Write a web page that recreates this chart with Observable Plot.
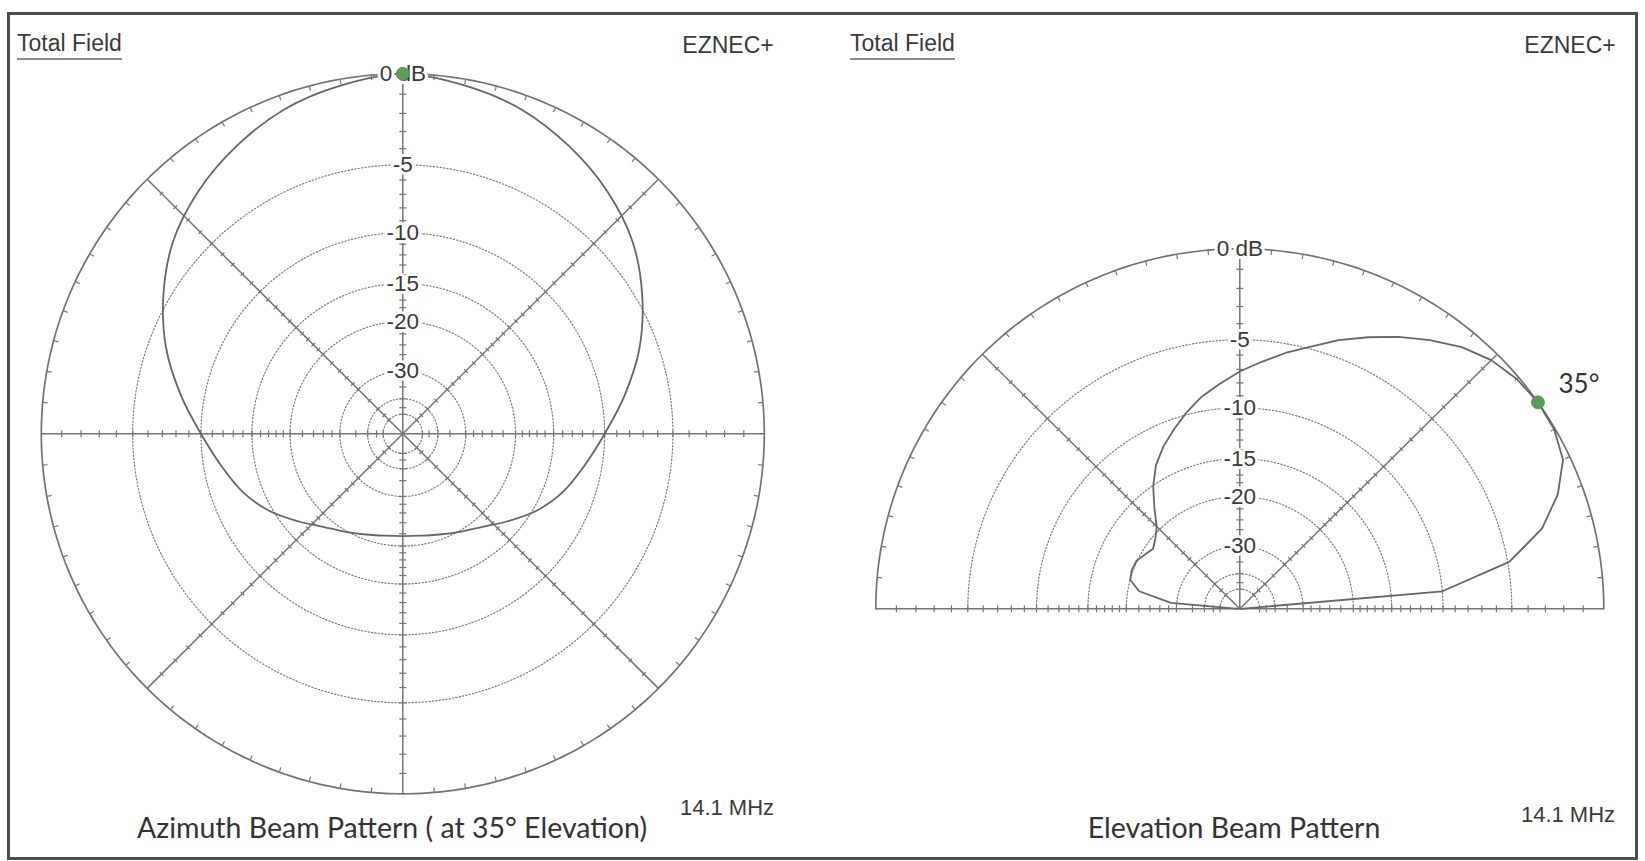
<!DOCTYPE html>
<html>
<head>
<meta charset="utf-8">
<script src="https://cdn.jsdelivr.net/npm/d3@7"></script>
<script src="https://cdn.jsdelivr.net/npm/@observablehq/plot@0.6"></script>
<style>
  body { margin: 0; background: #fff; }
  #page { position: relative; width: 1645px; height: 861px; overflow: hidden; background: #fff;
          font-family: "Liberation Sans", Arial, sans-serif; color: #3a3a3a; }
  .panel { position: absolute; top: 0; height: 861px; }
  .panel svg { max-width: none; }
  #frame { position: absolute; left: 7px; top: 12px; width: 1625px; height: 842px;
           border: 3px solid #4d4d4d; pointer-events: none; }
  .lbl { position: absolute; white-space: nowrap; line-height: 1; }
  .c { transform: translate(-50%, -50%); }
  .l { transform: translate(0, -50%); }
  .head { font-size: 23px; }
  .under { border-bottom: 2px solid #8c8c8c; padding-bottom: 3px; }
  .cap { font-family: Lato, "Open Sans", sans-serif; font-size: 28.5px; color: #333; }
  .freq { font-size: 22px; }
</style>
</head>
<body>
<div id="page">
  <div class="panel" id="az" style="left:0;width:820px"></div>
  <div class="panel" id="el" style="left:820px;width:825px"></div>

  <div class="lbl head under l" style="left:17px;top:46px">Total Field</div>
  <div class="lbl head c" style="left:728px;top:45px">EZNEC+</div>
  <div class="lbl head under l" style="left:850px;top:46px">Total Field</div>
  <div class="lbl head c" style="left:1570px;top:45px">EZNEC+</div>

  <div class="lbl cap c" style="left:392px;top:827px">Azimuth Beam Pattern ( at 35° Elevation)</div>
  <div class="lbl freq c" style="left:727px;top:808px">14.1 MHz</div>
  <div class="lbl cap c" style="left:1234px;top:827px">Elevation Beam Pattern</div>
  <div class="lbl freq c" style="left:1568px;top:815px">14.1 MHz</div>

  <div id="frame"></div>
</div>
<script>
// ---- pattern data (dB relative to the 0 dB maximum) ----
// Azimuth pattern at 35° elevation, bearing clockwise from the top of the plot
const azimuthDeg = [0, 10, 20, 30, 40, 50, 60, 70, 80, 90, 100, 110, 120, 130, 140, 150, 160, 170,
                    180, 190, 200, 210, 220, 230, 240, 250, 260, 270, 280, 290, 300, 310, 320, 330, 340, 350];
const azimuthDb = [0, -0.3, -0.72, -1.4, -2.2, -3.2, -4.6, -6.2, -8.1, -10.0, -11.55, -12.9, -14.6, -16.7, -18.6, -19.85, -20.8, -21.4,
                   -21.6, -21.4, -20.8, -19.85, -18.6, -16.7, -14.6, -12.9, -11.55, -10.0, -8.1, -6.2, -4.6, -3.2, -2.2, -1.4, -0.72, -0.3];

// Elevation pattern, elevation angle measured from the right-hand horizon
const elevationDeg = [0, 5, 10, 15, 20, 25, 30, 35, 40, 45, 50, 55, 60, 65, 70, 75, 80, 85, 90,
                      95, 100, 105, 110, 115, 120, 125, 130, 135, 140, 145, 150, 155, 160, 165, 170, 175, 180];
const elevationDb = [-100, -10.0, -4.9, -2.6, -1.25, -0.35, -0.05, 0, -0.12, -0.4, -0.9, -1.6, -2.35, -3.15, -3.95, -4.85, -5.6, -6.4, -7.15,
                     -8.0, -8.8, -9.8, -10.9, -12.0, -13.3, -15.1, -17.3, -19.4, -20.5, -21.2, -20.6, -19.9, -19.8, -20.0, -21.8, -28.5, -100];

// Maximum markers
const azimuthPeakDeg = 0, azimuthPeakDb = 0;
const elevationPeakDeg = 35, elevationPeakDb = 0;
const elevationPeakLabel = "35°";

// Grid: dotted rings and the labels along the vertical axis
const ringDb = [-5, -10, -15, -20, -30, -40, -50];
const ringLabelDb = [0, -5, -10, -15, -20, -30];
const ringLabels = ["0 dB", "-5", "-10", "-15", "-20", "-30"];
// small ticks along the spokes
const spokeTickDb = [-1, -2, -3, -4, -5, -6, -7, -8, -9, -10, -11, -12, -13, -14, -15, -16, -17, -18, -19, -20,
                     -22, -24, -26, -28, -30, -35, -40, -45, -50];

// ARRL-style log scale: radius shrinks by 0.89 for every 2 dB
const rho = db => Math.pow(0.89, -db / 2);
const rad = d => d * Math.PI / 180;
const polar = (bearing, r) => [r * Math.sin(rad(bearing)), r * Math.cos(rad(bearing))];

function polarChart({width, height, cx, cy, rx, ry, arc, spokes, pattern, curve, peak, peakLabel}) {
  const [b0, b1] = arc;
  const bearings = d3.range(b0, b1 + 0.01, 1);
  const outline = bearings.map(b => { const [x, y] = polar(b, 1); return {x, y}; });
  const rings = ringDb.flatMap(db => bearings.map(b => { const [x, y] = polar(b, rho(db)); return {db, x, y}; }));
  const spokeLinks = spokes.map(b => { const [x, y] = polar(b, 1); return {x1: 0, y1: 0, x2: x, y2: y}; });
  const spokeTicks = spokes.flatMap(b => {
    const h = b % 90 === 0 ? 3.5 : 2.5;
    const px = Math.cos(rad(b)) * h / rx, py = -Math.sin(rad(b)) * h / ry;
    return spokeTickDb.map(db => { const [x, y] = polar(b, rho(db)); return {x1: x - px, y1: y - py, x2: x + px, y2: y + py}; });
  });
  const onSpoke = b => spokes.some(s => ((((s - b) % 360) + 360) % 360) === 0);
  const rimTicks = d3.range(b0, b1 + 0.01, 5).filter(b => !onSpoke(b)).map(b => {
    const s = Math.sin(rad(b)), c = Math.cos(rad(b));
    return {x1: s, y1: c, x2: s * (1 - 5 / rx), y2: c * (1 - 5 / ry)};
  });
  const labels = ringLabelDb.map((db, i) => { const [x, y] = polar(0, rho(db)); return {x, y, text: ringLabels[i]}; });
  const trace = pattern.deg.map((d, i) => { const [x, y] = polar(pattern.bearing(d), rho(pattern.db[i])); return {x, y}; });
  const [px, py] = polar(pattern.bearing(peak.deg), rho(peak.db));
  const peakPt = [{x: px, y: py, text: peakLabel || ""}];

  const marks = [
    Plot.line(rings, {x: "x", y: "y", z: "db", stroke: "#7c7c7c", strokeWidth: 1.2, strokeDasharray: "1.3,2.1"}),
    Plot.link(spokeLinks, {x1: "x1", y1: "y1", x2: "x2", y2: "y2", stroke: "#747474", strokeWidth: 1.5}),
    Plot.link(spokeTicks, {x1: "x1", y1: "y1", x2: "x2", y2: "y2", stroke: "#747474", strokeWidth: 1.2}),
    Plot.line(outline, {x: "x", y: "y", stroke: "#727272", strokeWidth: 1.7}),
    Plot.link(rimTicks, {x1: "x1", y1: "y1", x2: "x2", y2: "y2", stroke: "#777", strokeWidth: 1.2}),
    Plot.line(trace, {x: "x", y: "y", curve, stroke: "#666", strokeWidth: 1.8}),
    Plot.text(labels, {x: "x", y: "y", text: "text", fill: "#3a3a3a", stroke: "white", strokeWidth: 6,
                       fontSize: 22.5, fontFamily: "Liberation Sans, Arial, sans-serif"}),
    Plot.dot(peakPt, {x: "x", y: "y", r: 6.5, fill: "#5c9e57", stroke: "#4f9149", strokeWidth: 0.8})
  ];
  if (peakLabel) marks.push(Plot.text(peakPt, {x: "x", y: "y", text: "text", dx: 41, dy: -18, fill: "#333",
                                              fontSize: 26, fontFamily: "Lato, sans-serif"}));

  return Plot.plot({
    width, height, margin: 0,
    x: {domain: [-1, 1], range: [cx - rx, cx + rx], axis: null},
    y: {domain: [-1, 1], range: [cy + ry, cy - ry], axis: null},
    style: {background: "transparent", overflow: "visible", fontFamily: "Liberation Sans, Arial, sans-serif"},
    marks
  });
}

document.getElementById("az").append(polarChart({
  width: 820, height: 861, cx: 402.3, cy: 433.3, rx: 361.5, ry: 360,
  arc: [0, 360], spokes: [0, 45, 90, 135, 180, 225, 270, 315],
  pattern: {deg: azimuthDeg, db: azimuthDb, bearing: d => d},
  curve: "catmull-rom-closed",
  peak: {deg: azimuthPeakDeg, db: azimuthPeakDb}
}));

document.getElementById("el").append(polarChart({
  width: 825, height: 861, cx: 419.3, cy: 608.3, rx: 364, ry: 360,
  arc: [-90, 90], spokes: [90, 45, 0, -45, -90],
  pattern: {deg: elevationDeg, db: elevationDb, bearing: d => 90 - d},
  curve: "linear",
  peak: {deg: elevationPeakDeg, db: elevationPeakDb},
  peakLabel: elevationPeakLabel
}));
</script>
</body>
</html>
